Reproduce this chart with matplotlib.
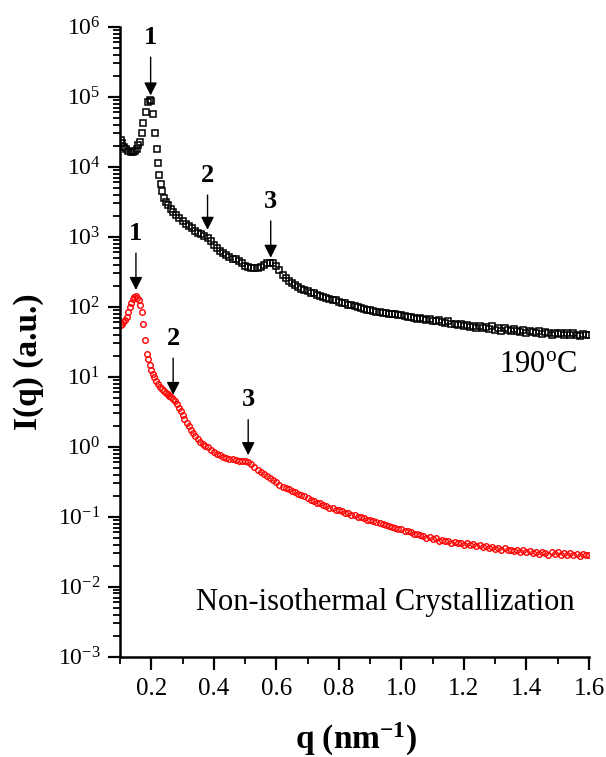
import numpy as np
import matplotlib
matplotlib.use("Agg")
from matplotlib import pyplot as plt
from matplotlib.ticker import MultipleLocator, LogLocator

plt.rcParams["font.family"] = ["Liberation Serif", "DejaVu Serif"]
plt.rcParams["mathtext.fontset"] = "custom"
plt.rcParams["mathtext.rm"] = "Liberation Serif"
plt.rcParams["mathtext.it"] = "Liberation Serif:italic"
plt.rcParams["mathtext.bf"] = "Liberation Serif:bold"

# 190 C curve (black squares): q in nm^-1, log10 of I(q)
q_190 = [0.102, 0.108, 0.114, 0.120, 0.127, 0.134, 0.141, 0.147, 0.153, 0.158,
         0.164, 0.169, 0.175, 0.182, 0.189, 0.195, 0.200, 0.205, 0.211, 0.217,
         0.222, 0.226, 0.230, 0.235, 0.241, 0.248, 0.255, 0.263, 0.271, 0.280,
         0.29, 0.30, 0.31, 0.32, 0.33, 0.34, 0.35, 0.36, 0.37, 0.38,
         0.39, 0.40, 0.41, 0.42, 0.43, 0.44, 0.45, 0.46, 0.47, 0.48,
         0.49, 0.50, 0.51, 0.52, 0.53, 0.54, 0.55, 0.56, 0.57, 0.58,
         0.59, 0.60, 0.61, 0.62, 0.63, 0.64, 0.65, 0.66, 0.67, 0.68,
         0.69, 0.70, 0.71, 0.72, 0.73, 0.74, 0.75, 0.76, 0.77, 0.78,
         0.79, 0.80, 0.81, 0.82, 0.83, 0.84, 0.85, 0.86, 0.87, 0.88,
         0.89, 0.90, 0.91, 0.92, 0.93, 0.94, 0.95, 0.96, 0.97, 0.98,
         0.99, 1.00, 1.01, 1.02, 1.03, 1.04, 1.05, 1.06, 1.07, 1.08,
         1.09, 1.10, 1.11, 1.12, 1.13, 1.14, 1.15, 1.16, 1.17, 1.18,
         1.19, 1.20, 1.21, 1.22, 1.23, 1.24, 1.25, 1.26, 1.27, 1.28,
         1.29, 1.30, 1.31, 1.32, 1.33, 1.34, 1.35, 1.36, 1.37, 1.38,
         1.39, 1.40, 1.41, 1.42, 1.43, 1.44, 1.45, 1.46, 1.47, 1.48,
         1.49, 1.50, 1.51, 1.52, 1.53, 1.54, 1.55, 1.56, 1.57, 1.58,
         1.59, 1.60]
log_190 = [4.39, 4.34, 4.29, 4.25, 4.23, 4.21, 4.21, 4.23, 4.26, 4.31,
           4.36, 4.48, 4.62, 4.79, 4.93, 4.96, 4.94, 4.76, 4.49, 4.26,
           4.05, 3.88, 3.75, 3.66, 3.56, 3.50, 3.45, 3.40, 3.36, 3.31,
           3.27, 3.23, 3.19, 3.16, 3.12, 3.09, 3.06, 3.04, 3.01, 2.99,
           2.94, 2.88, 2.84, 2.80, 2.77, 2.74, 2.71, 2.69, 2.68, 2.66,
           2.62, 2.59, 2.57, 2.55, 2.55, 2.56, 2.57, 2.60, 2.62, 2.63,
           2.62, 2.58, 2.52, 2.46, 2.41, 2.37, 2.34, 2.31, 2.28, 2.26,
           2.24, 2.22, 2.20, 2.19, 2.17, 2.15, 2.14, 2.13, 2.11, 2.10,
           2.09, 2.07, 2.06, 2.05, 2.03, 2.02, 2.01, 1.99, 1.98, 1.97,
           1.95, 1.95, 1.94, 1.93, 1.92, 1.91, 1.91, 1.90, 1.90, 1.89,
           1.88, 1.88, 1.87, 1.85, 1.86, 1.84, 1.83, 1.84, 1.82, 1.81,
           1.82, 1.80, 1.79, 1.81, 1.78, 1.77, 1.79, 1.75, 1.76, 1.74,
           1.76, 1.72, 1.74, 1.71, 1.73, 1.70, 1.72, 1.69, 1.71, 1.68,
           1.72, 1.67, 1.70, 1.66, 1.69, 1.67, 1.65, 1.68, 1.66, 1.64,
           1.67, 1.63, 1.66, 1.64, 1.62, 1.65, 1.61, 1.64, 1.62, 1.60,
           1.63, 1.61, 1.63, 1.60, 1.62, 1.59, 1.62, 1.60, 1.58, 1.61,
           1.59, 1.60]

# non-isothermal curve (red circles)
q_noniso = [0.102, 0.106, 0.111, 0.116, 0.121, 0.126, 0.131, 0.136, 0.141, 0.146,
            0.151, 0.156, 0.160, 0.164, 0.169, 0.175, 0.180, 0.185, 0.190, 0.195,
            0.200, 0.205, 0.210, 0.216, 0.222, 0.228, 0.234, 0.240, 0.246, 0.252,
            0.258, 0.264, 0.270, 0.276, 0.282, 0.288, 0.294, 0.300, 0.306, 0.313,
            0.320, 0.327, 0.334, 0.341, 0.348, 0.356, 0.364, 0.372, 0.380, 0.39,
            0.40, 0.41, 0.42, 0.43, 0.44, 0.45, 0.46, 0.47, 0.48, 0.49,
            0.50, 0.51, 0.52, 0.53, 0.54, 0.55, 0.56, 0.57, 0.58, 0.59,
            0.60, 0.61, 0.62, 0.63, 0.64, 0.65, 0.66, 0.67, 0.68, 0.69,
            0.70, 0.71, 0.72, 0.73, 0.74, 0.75, 0.76, 0.77, 0.78, 0.79,
            0.80, 0.81, 0.82, 0.83, 0.84, 0.85, 0.86, 0.87, 0.88, 0.89,
            0.90, 0.91, 0.92, 0.93, 0.94, 0.95, 0.96, 0.97, 0.98, 0.99,
            1.00, 1.01, 1.02, 1.03, 1.04, 1.05, 1.06, 1.07, 1.08, 1.09,
            1.10, 1.11, 1.12, 1.13, 1.14, 1.15, 1.16, 1.17, 1.18, 1.19,
            1.20, 1.21, 1.22, 1.23, 1.24, 1.25, 1.26, 1.27, 1.28, 1.29,
            1.30, 1.31, 1.32, 1.33, 1.34, 1.35, 1.36, 1.37, 1.38, 1.39,
            1.40, 1.41, 1.42, 1.43, 1.44, 1.45, 1.46, 1.47, 1.48, 1.49,
            1.50, 1.51, 1.52, 1.53, 1.54, 1.55, 1.56, 1.57, 1.58, 1.59,
            1.60]
log_noniso = [1.74, 1.76, 1.78, 1.81, 1.86, 1.92, 2.00, 2.06, 2.11, 2.14,
              2.15, 2.13, 2.10, 2.02, 1.93, 1.76, 1.52, 1.33, 1.25, 1.17,
              1.10, 1.04, 0.99, 0.94, 0.89, 0.86, 0.82, 0.79, 0.77, 0.75,
              0.73, 0.71, 0.68, 0.65, 0.61, 0.56, 0.51, 0.45, 0.40, 0.34,
              0.29, 0.24, 0.19, 0.15, 0.11, 0.07, 0.04, 0.01, -0.01, -0.04,
              -0.07, -0.10, -0.12, -0.14, -0.16, -0.17, -0.18, -0.19, -0.20, -0.20,
              -0.21, -0.22, -0.25, -0.29, -0.33, -0.36, -0.39, -0.42, -0.45, -0.48,
              -0.51, -0.54, -0.57, -0.59, -0.61, -0.63, -0.65, -0.67, -0.69, -0.71,
              -0.73, -0.76, -0.78, -0.80, -0.81, -0.83, -0.85, -0.87, -0.88, -0.90,
              -0.91, -0.92, -0.94, -0.95, -0.97, -0.98, -1.00, -1.01, -1.02, -1.04,
              -1.05, -1.06, -1.08, -1.09, -1.11, -1.12, -1.13, -1.15, -1.16, -1.17,
              -1.18, -1.20, -1.21, -1.22, -1.24, -1.25, -1.26, -1.27, -1.30, -1.29,
              -1.32, -1.31, -1.34, -1.33, -1.35, -1.34, -1.37, -1.36, -1.38, -1.37,
              -1.40, -1.38, -1.41, -1.39, -1.42, -1.41, -1.43, -1.42, -1.45, -1.43,
              -1.46, -1.44, -1.47, -1.45, -1.48, -1.47, -1.49, -1.48, -1.50, -1.48,
              -1.51, -1.49, -1.52, -1.50, -1.53, -1.50, -1.52, -1.54, -1.51, -1.53,
              -1.51, -1.54, -1.52, -1.55, -1.52, -1.54, -1.53, -1.56, -1.53, -1.55,
              -1.54]

# peak markers: (label, q, arrow tip log10 I, label log10 I)
peaks_190 = [("1", 0.198, 5.02, 5.85), ("2", 0.38, 3.10, 3.88), ("3", 0.582, 2.70, 3.51)]
peaks_noniso = [("1", 0.151, 2.24, 3.05), ("2", 0.27, 0.74, 1.55), ("3", 0.51, -0.12, 0.67)]

fig = plt.figure(figsize=(6.06, 7.57), dpi=100)
ax = fig.add_axes([0.198, 0.1325, 0.774, 0.832])

ax.plot(q_190, 10 ** np.array(log_190), linestyle="none", marker="s", markersize=3.8,
        markerfacecolor="none", markeredgecolor="black", markeredgewidth=1.1)
ax.plot(q_noniso, 10 ** np.array(log_noniso), linestyle="none", marker="o", markersize=4.0,
        markerfacecolor="none", markeredgecolor="red", markeredgewidth=1.0)

for label, q, tip, txt in peaks_190 + peaks_noniso:
    ax.annotate(label, xy=(q, 10 ** tip), xytext=(q, 10 ** txt),
                ha="center", va="center", fontsize=19, fontweight="bold",
                arrowprops=dict(arrowstyle="-|>,head_length=0.6,head_width=0.3",
                                color="black", lw=1, mutation_scale=13,
                                shrinkA=4, shrinkB=0))

ax.text(1.437, 10 ** 1.17, r"190$^{\mathrm{o}}$C", ha="center", va="center", fontsize=22)
ax.text(0.949, 10 ** -2.22, "Non-isothermal Crystallization", ha="center", va="center",
        fontsize=22)

ax.set_yscale("log")
ax.set_xlim(0.1, 1.6)
ax.set_ylim(1e-3, 1e6)
ax.set_xticks([0.2, 0.4, 0.6, 0.8, 1.0, 1.2, 1.4, 1.6])
ax.set_xticklabels(["0.2", "0.4", "0.6", "0.8", "1.0", "1.2", "1.4", "1.6"])
ax.xaxis.set_minor_locator(MultipleLocator(0.1))
ax.yaxis.set_major_locator(LogLocator(base=10, numticks=20))
ax.yaxis.set_minor_locator(LogLocator(base=10, subs=np.arange(2, 10), numticks=20))

for side in ["top", "right"]:
    ax.spines[side].set_visible(False)
for side in ["left", "bottom"]:
    ax.spines[side].set_linewidth(1.8)

ax.tick_params(which="major", direction="out", length=9, width=1.6)
ax.tick_params(which="minor", direction="out", length=5, width=1.3)
ax.tick_params(axis="x", which="major", labelsize=18, pad=6)
ax.tick_params(axis="y", which="major", labelsize=17, pad=5)

fig.text(29 / 606, 1 - 362 / 757, "I(q) (a.u.)", rotation=90, ha="center", va="center",
         fontsize=24, fontweight="bold")
fig.text(356 / 606, 1 - 739 / 757, r"q (nm$^{\mathbf{-1}}$)", ha="center", va="center",
         fontsize=24, fontweight="bold")

fig.savefig("out.png", dpi=100)
